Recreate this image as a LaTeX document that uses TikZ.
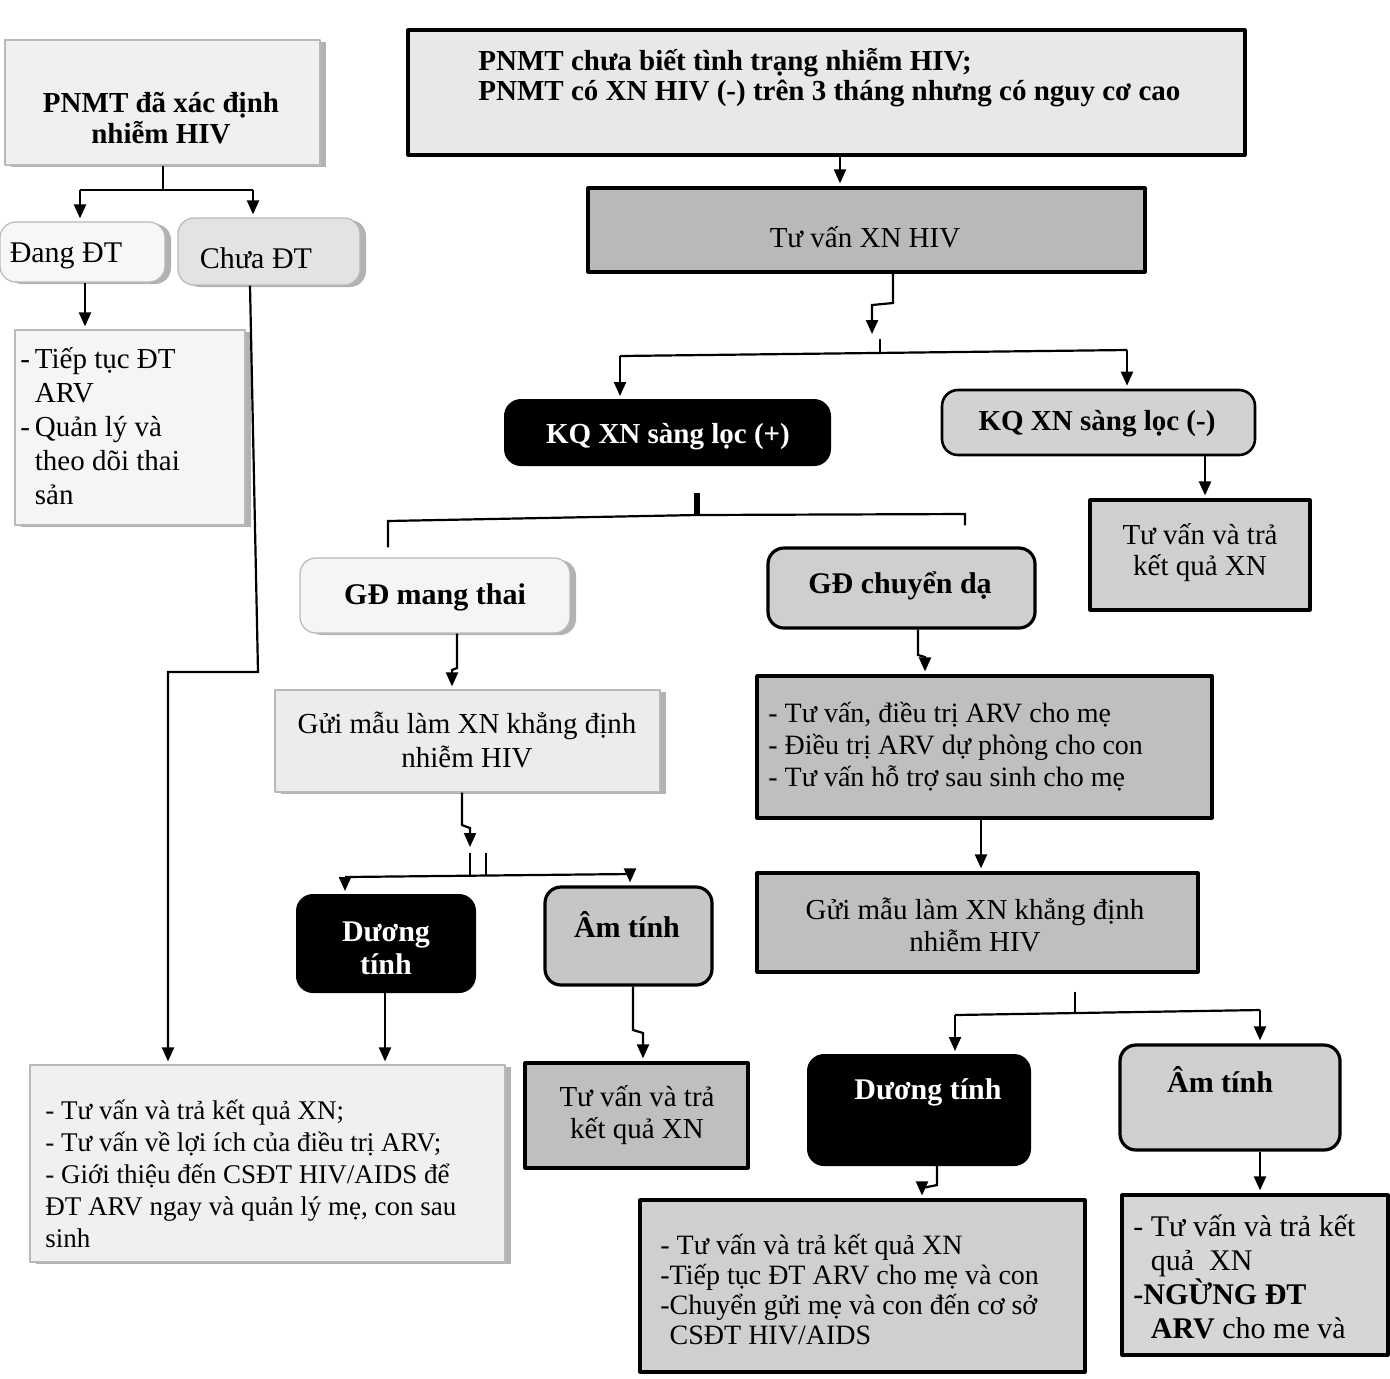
\documentclass[tikz,border=0pt]{standalone}
\usepackage{fontspec}
\setmainfont{Liberation Serif}
\usetikzlibrary{arrows.meta,fit,shadows}
\newcommand\fz[2]{\fontsize{#1}{#2}\selectfont}
\begin{document}
\begin{tikzpicture}[x=0.5pt,y=-0.5pt,
  box/.style={inner sep=0pt, line join=round},
  lite/.style={box, fill=gray!12, draw=gray!55, line width=0.6pt,
     drop shadow={shadow xshift=3pt, shadow yshift=-1pt, fill=gray!60, opacity=1}},
  dark/.style={box, fill=gray!50, draw=black, line width=1.6pt},
  mid/.style={box, fill=gray!38, draw=black, line width=1.6pt},
  blk/.style={box, fill=black, draw=black, line width=1pt, rounded corners=8pt},
  rnd/.style={rounded corners=8pt},
  txt/.style={inner sep=0pt, align=center},
  lst/.style={inner sep=0pt, align=left, anchor=west},
  ln/.style={draw=black, line width=1.1pt},
  arr/.style={ln, -{Triangle[length=7pt,width=6pt]}, shorten >=1.5pt}
]
\useasboundingbox (0,0) rectangle (1390,1378);
\fill[white] (0,0) rectangle (1390,1378);

% ---------------- boxes ----------------
\node[lite, fit={(5,40)(320,165)}] (A) {};
\node[box, fill=gray!18, draw=black, line width=1.6pt, fit={(408,30)(1245,155)}] (B) {};
\node[lite, rnd, fill=gray!6, fit={(0,222)(165,282)}] (Dang) {};
\node[lite, rnd, fill=gray!22, fit={(178,218)(360,285)}] (Chua) {};
\node[lite, fill=gray!8, fit={(15,330)(245,525)}] (Tiep) {};
\node[dark, fill=gray!55, fit={(588,188)(1145,272)}] (TV) {};
\node[blk, fit={(505,400)(830,465)}] (KQp) {};
\node[mid, rnd, fill=gray!35, line width=1.3pt, fit={(942,390)(1255,455)}] (KQm) {};
\node[mid, fit={(1090,500)(1310,610)}] (TVr) {};
\node[lite, rnd, fill=gray!8, fit={(300,558)(570,633)}] (GDm) {};
\node[mid, rnd, fit={(768,548)(1035,628)}] (GDc) {};
\node[lite, fill=gray!15, fit={(275,690)(660,792)}] (GMl) {};
\node[dark, fit={(757,676)(1212,818)}] (L1) {};
\node[dark, fit={(757,873)(1198,972)}] (GMr) {};
\node[blk, fit={(297,895)(475,992)}] (DTl) {};
\node[mid, rnd, fill=gray!45, fit={(545,887)(712,985)}] (ATl) {};
\node[lite, fill=gray!12, fit={(30,1065)(505,1262)}] (BL) {};
\node[dark, fit={(525,1063)(748,1168)}] (TVc) {};
\node[blk, fit={(808,1055)(1030,1165)}] (DTr) {};
\node[mid, rnd, fit={(1120,1045)(1340,1150)}] (ATr) {};
\node[mid, fit={(640,1200)(1085,1372)}] (BC) {};
\node[mid, fill=gray!32, fit={(1122,1195)(1388,1355)}] (BR) {};

% ---------------- texts ----------------
\node[txt, font=\bfseries\fz{14.5}{15.5}] (At) at (161,118) {PNMT đã xác định\\nhiễm HIV};
\node[lst, font=\bfseries\fz{14.5}{15}] (Bt) at (478,78) {PNMT chưa biết tình trạng nhiễm HIV;\\PNMT có XN HIV (-) trên 3 tháng nhưng có nguy cơ cao};
\node[txt, font=\fz{15}{17}] (Dangt) at (66,256) {Đang ĐT};
\node[txt, font=\fz{15}{17}] (Chuat) at (256,258) {Chưa ĐT};
\node[lst, font=\fz{14.5}{17}] (Tiept) at (20,430) {\begin{tabular}{@{}l@{\,}l@{}}-&Tiếp tục ĐT\\&ARV\\-&Quản lý và\\&theo dõi thai\\&sản\end{tabular}};
\node[txt, font=\fz{14.5}{16}] (TVt) at (865,237) {Tư vấn XN HIV};
\node[txt, font=\bfseries\fz{14.5}{16}, text=white] (KQpt) at (668,437) {KQ XN sàng lọc (+)};
\node[txt, font=\bfseries\fz{14.5}{16}] (KQmt) at (1097,424) {KQ XN sàng lọc (-)};
\node[txt, font=\fz{14.5}{15.5}] (TVrt) at (1200,553) {Tư vấn và trả\\kết quả XN};
\node[txt, font=\bfseries\fz{15}{16}] (GDmt) at (435,597) {GĐ mang thai};
\node[txt, font=\bfseries\fz{15}{16}] (GDct) at (900,586) {GĐ chuyển dạ};
\node[txt, font=\fz{14.5}{17}] (GMlt) at (467,740) {Gửi mẫu làm XN khẳng định\\nhiễm HIV};
\node[lst, font=\fz{14}{16}] (L1t) at (768,747) {- Tư vấn, điều trị ARV cho mẹ\\- Điều trị ARV dự phòng cho con\\- Tư vấn hỗ trợ sau sinh cho mẹ};
\node[txt, font=\fz{14.5}{16}] (GMrt) at (975,925) {Gửi mẫu làm XN khẳng định\\nhiễm HIV};
\node[txt, font=\bfseries\fz{15}{16.5}, text=white] (DTlt) at (386,948) {Dương\\tính};
\node[txt, font=\bfseries\fz{15}{16}] (ATlt) at (627,925) {Âm tính};
\node[lst, font=\fz{13.5}{16}] (BLt) at (45,1174) {- Tư vấn và trả kết quả XN;\\- Tư vấn về lợi ích của điều trị ARV;\\- Giới thiệu đến CSĐT HIV/AIDS để\\ĐT ARV ngay và quản lý mẹ, con sau\\sinh};
\node[txt, font=\fz{14.5}{16}] (TVct) at (637,1115) {Tư vấn và trả\\kết quả XN};
\node[txt, font=\bfseries\fz{15}{16}, text=white] (DTrt) at (928,1092) {Dương tính};
\node[txt, font=\bfseries\fz{15}{16}] (ATrt) at (1220,1080) {Âm tính};
\node[lst, font=\fz{14}{15}] (BCt) at (660,1290) {- Tư vấn và trả kết quả XN\\-Tiếp tục ĐT ARV cho mẹ và con\\-Chuyển gửi mẹ và con đến cơ sở\\\phantom{-}CSĐT HIV/AIDS};
\node[lst, font=\fz{15}{17}] (BRt) at (1133,1277) {- Tư vấn và trả kết\\\phantom{-} quả\ \ XN\\\textbf{-NGỪNG ĐT}\\\phantom{-} \textbf{ARV} cho me và};

% ---------------- connectors ----------------
\coordinate (jA) at (163,190);
\coordinate (jAl) at (80,190);
\coordinate (jAr) at (253,190);
\draw[ln] (A.south -| jA) -- (jA);
\draw[ln] (jAl) -- (jAr);
\draw[arr] (jAl) -- (Dang.north -| jAl);
\draw[arr] (jAr) -- (Chua.north -| jAr);
\draw[arr] (Dang.south -| 85,0) -- (Tiep.north -| 85,0);
\coordinate (k1) at (258,672);
\coordinate (k2) at (168,672);
\draw[arr] (Chua.south -| 250,0) -- (k1) -- (k2) -- (BL.north -| k2);

\draw[arr] (B.south -| 840,0) -- (TV.north -| 840,0);
\coordinate (t1) at (893,303);
\coordinate (t2) at (872,305);
\coordinate (t3) at (872,337);
\coordinate (t4) at (880,339);
\coordinate (t5) at (880,354);
\draw[arr] (TV.south -| t1) -- (t1) -- (t2) -- (t3);
\draw[ln] (t4) -- (t5);
\coordinate (hL) at (620,356);
\coordinate (hR) at (1127,350);
\draw[ln] (hL) -- (hR);
\draw[arr] (hL) -- (KQp.north -| hL);
\draw[arr] (hR) -- (KQm.north -| hR);

\coordinate (s1) at (697,492);
\coordinate (s2) at (697,515);
\draw[line width=2.6pt, shorten <=13.5pt] (KQp.south -| s1) -- (s2);
\draw[ln, shorten >=5pt] (s2) -- (388,521) -- (GDm.north -| 388,0);
\draw[ln, shorten >=10.5pt] (s2) -- (965,514) -- (GDc.north -| 965,0);
\draw[arr] (KQm.south -| 1205,0) -- (TVr.north -| 1205,0);

\draw[arr] (GDm.south -| 457,0) -- (457,668) -- (452,670) -- (GMl.north -| 452,0);
\draw[arr] (GDc.south -| 918,0) -- (918,655) -- (925,657) -- (L1.north -| 925,0);
\draw[arr] (L1.south -| 981,0) -- (GMr.north -| 981,0);

\coordinate (g1) at (462,825);
\coordinate (g2) at (470,828);
\coordinate (g3) at (470,850);
\draw[arr] (GMl.south -| g1) -- (g1) -- (g2) -- (g3);
\draw[ln] (470,853) -- (470,876);
\draw[ln] (486,853) -- (486,876);
\coordinate (gL) at (345,877);
\coordinate (gR) at (630,874);
\draw[ln] (gL) -- (gR);
\draw[arr] (gL) -- (DTl.north -| gL);
\draw[arr] (gR) -- (ATl.north -| gR);
\draw[arr] (DTl.south -| 385,0) -- (BL.north -| 385,0);
\draw[arr] (ATl.south -| 633,0) -- (633,1030) -- (643,1033) -- (TVc.north -| 643,0);

\coordinate (r0) at (1075,1012);
\draw[ln, shorten <=9pt] (GMr.south -| r0) -- (r0);
\coordinate (rL) at (955,1015);
\coordinate (rR) at (1260,1010);
\draw[ln] (rL) -- (rR);
\draw[arr] (rL) -- (DTr.north -| rL);
\draw[arr] (rR) -- (ATr.north -| rR);
\draw[arr] (DTr.south -| 937,0) -- (937,1185) -- (922,1188) -- (BC.north -| 922,0);
\draw[arr] (ATr.south -| 1260,0) -- (BR.north -| 1260,0);
\end{tikzpicture}
\end{document}
